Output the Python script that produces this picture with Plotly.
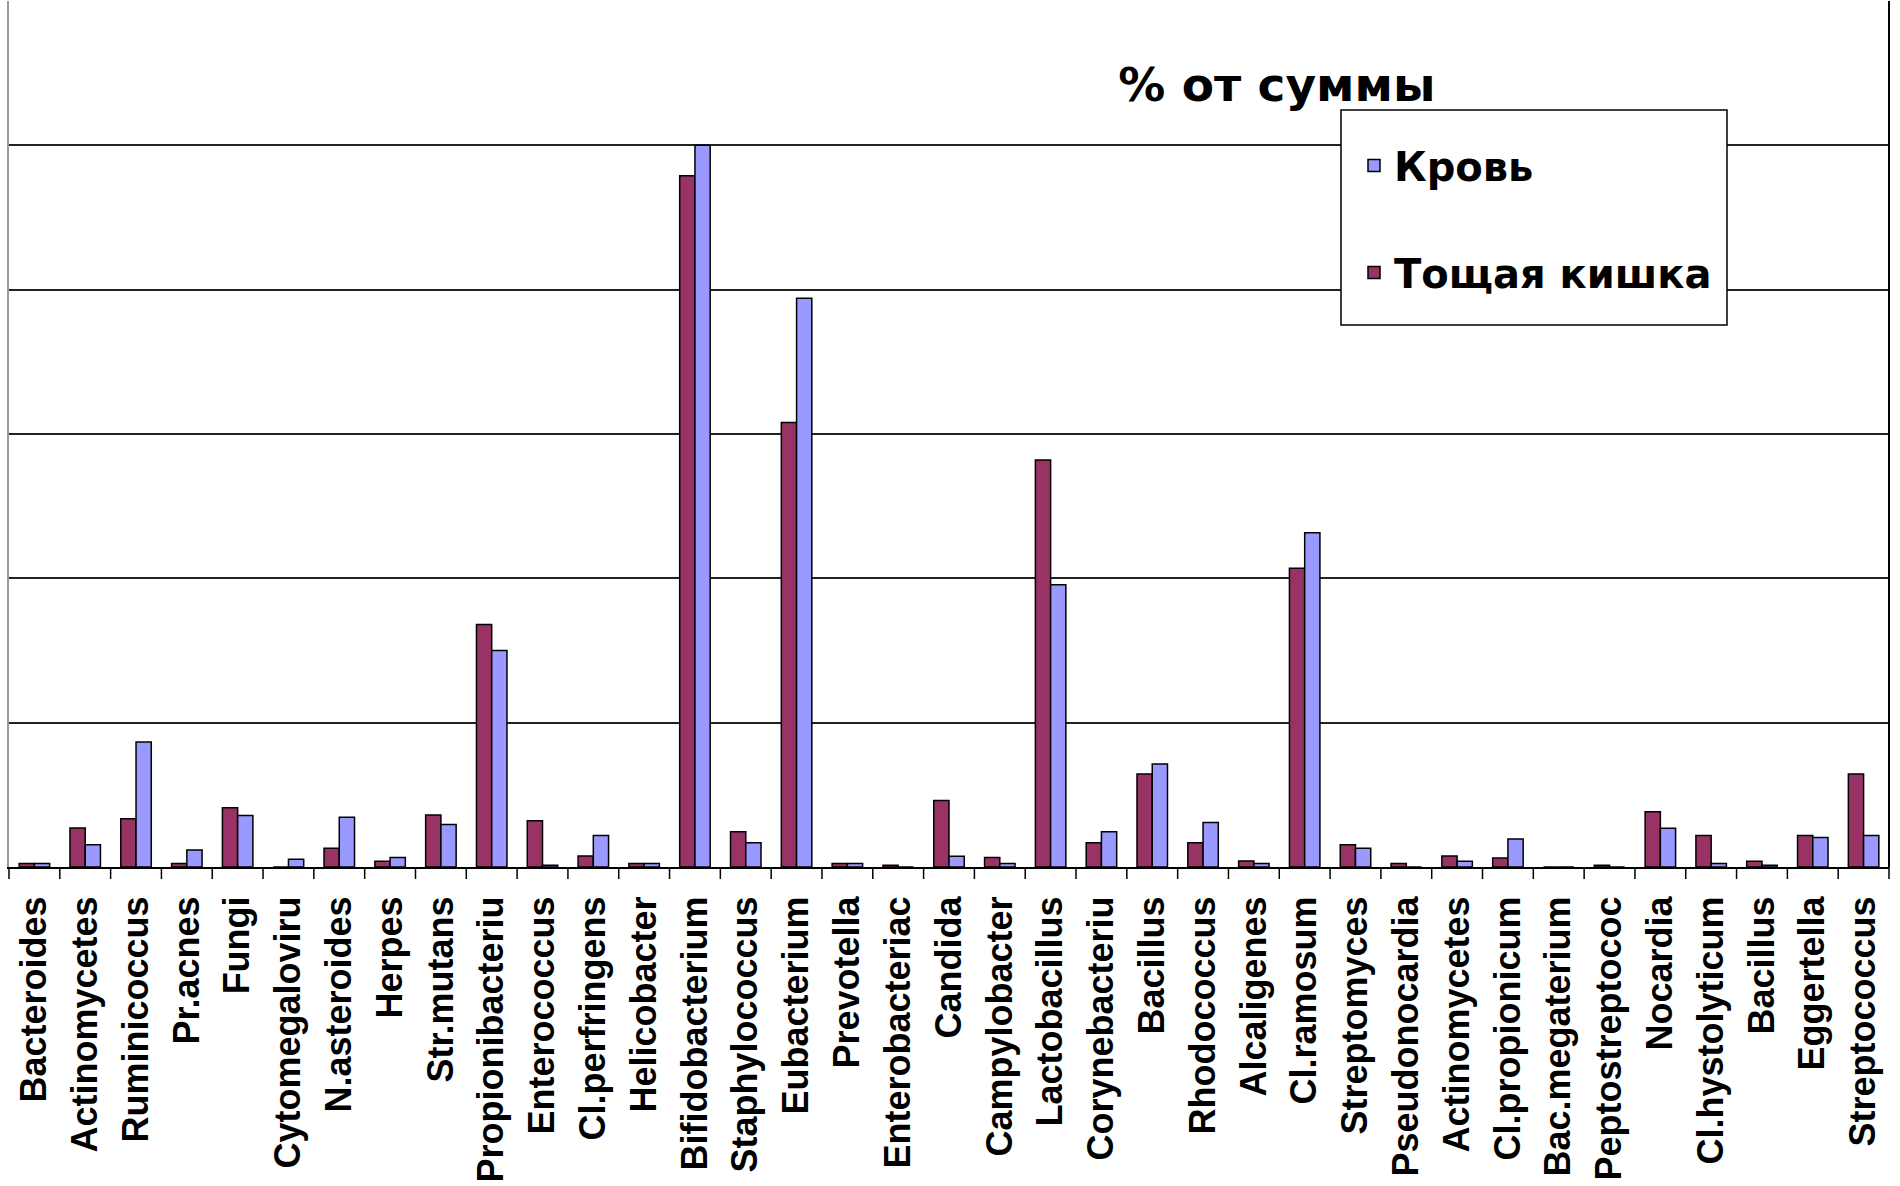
import plotly.graph_objects as go

categories = [
    "Bacteroides", "Actinomycetes", "Ruminicoccus", "Pr.acnes", "Fungi",
    "Cytomegaloviru", "N.asteroides", "Herpes", "Str.mutans", "Propionibacteriu",
    "Enterococcus", "Cl.perfringens", "Helicobacter", "Bifidobacterium",
    "Staphylococcus", "Eubacterium", "Prevotella", "Enterobacteriac", "Candida",
    "Campylobacter", "Lactobacillus", "Corynebacteriu", "Bacillus", "Rhodococcus",
    "Alcaligenes", "Cl.ramosum", "Streptomyces", "Pseudonocardia", "Actinomycetes",
    "Cl.propionicum", "Bac.megaterium", "Peptostreptococ", "Nocardia",
    "Cl.hystolyticum", "Bacillus", "Eggertella", "Streptococcus",
]

# Тощая кишка (% of sum)
jejunum = [
    0.12, 1.35, 1.67, 0.12, 2.05, 0.0, 0.65, 0.20, 1.80, 8.40,
    1.60, 0.38, 0.12, 23.95, 1.22, 15.40, 0.12, 0.06, 2.30,
    0.33, 14.10, 0.84, 3.22, 0.84, 0.21, 10.35, 0.77, 0.12, 0.38,
    0.31, 0.0, 0.06, 1.91, 1.09, 0.20, 1.09, 3.22,
]

# Кровь (% of sum)
blood = [
    0.12, 0.77, 4.33, 0.59, 1.78, 0.27, 1.72, 0.33, 1.47, 7.50,
    0.06, 1.09, 0.12, 25.00, 0.84, 19.70, 0.12, 0.0, 0.37,
    0.12, 9.78, 1.22, 3.57, 1.54, 0.12, 11.58, 0.65, 0.0, 0.20,
    0.97, 0.0, 0.0, 1.34, 0.12, 0.06, 1.02, 1.09,
]

positions = list(range(len(categories)))
xrange_ = [-0.5, len(categories) - 0.5]

W, H = 1900, 1186
ml, mr, mt, mb = 9, 11, 1, 319
pw = W - ml - mr
ph = H - mt - mb

def px_x(X):
    return (X - ml) / pw

def px_y(Y):
    return (H - mb - Y) / ph

fig = go.Figure()
fig.add_trace(go.Bar(
    x=positions, y=jejunum, name="Тощая кишка", legendgroup="j", legendrank=2,
    marker=dict(color="#993366", line=dict(color="black", width=1.5)),
))
fig.add_trace(go.Bar(
    x=positions, y=blood, name="Кровь", legendgroup="b", legendrank=1,
    marker=dict(color="#9999FF", line=dict(color="black", width=1.5)),
))

# tick marks between categories (category boundaries, in paper fraction)
n = len(categories)
tick_len = 12 / ph
for k in range(n + 1):
    fig.add_shape(type="line", xref="paper", yref="paper", x0=k / n, x1=k / n,
                  y0=0, y1=-tick_len, line=dict(color="black", width=1.5))

# legend frame
fig.add_shape(type="rect", xref="paper", yref="paper",
              x0=px_x(1341), x1=px_x(1727), y0=px_y(325), y1=px_y(110),
              line=dict(color="black", width=1.5), fillcolor="white", layer="above")
# right border
fig.add_shape(type="line", xref="paper", yref="paper", x0=1, x1=1, y0=0, y1=1,
              line=dict(color="black", width=2), layer="above")

fig.update_layout(
    width=W, height=H,
    margin=dict(l=ml, r=mr, t=mt, b=mb),
    paper_bgcolor="white", plot_bgcolor="white",
    barmode="group", bargap=0.40, bargroupgap=0.0,
    title=dict(text="<b>% от суммы</b>", x=0.672, xanchor="center",
               y=1 - 85 / H, yanchor="middle", yref="container",
               font=dict(family="DejaVu Sans", size=47, color="black")),
    legend=dict(x=px_x(1354), y=px_y(133), xanchor="left", yanchor="top",
                traceorder="grouped", tracegroupgap=52,
                bgcolor="rgba(0,0,0,0)", borderwidth=0,
                font=dict(family="DejaVu Sans", size=40, color="black", weight="bold")),
    showlegend=True,
    xaxis=dict(
        range=xrange_, automargin=False,
        tickmode="array", tickvals=positions, ticktext=categories,
        tickangle=-90, ticks="outside", ticklen=12, tickcolor="rgba(0,0,0,0)",
        ticklabelstandoff=1,
        tickfont=dict(family="Liberation Sans Narrow, Arial Narrow, Liberation Sans",
                      size=36, color="black", weight="bold"),
        showline=True, linecolor="black", linewidth=2,
        showgrid=False, zeroline=False,
    ),
    yaxis=dict(
        range=[0, 30], dtick=5, showticklabels=False, ticks="", automargin=False,
        showgrid=True, gridcolor="#222222", gridwidth=2,
        showline=True, linecolor="#999999", linewidth=2,
        zeroline=False,
    ),
)

fig.write_html("out.html")
